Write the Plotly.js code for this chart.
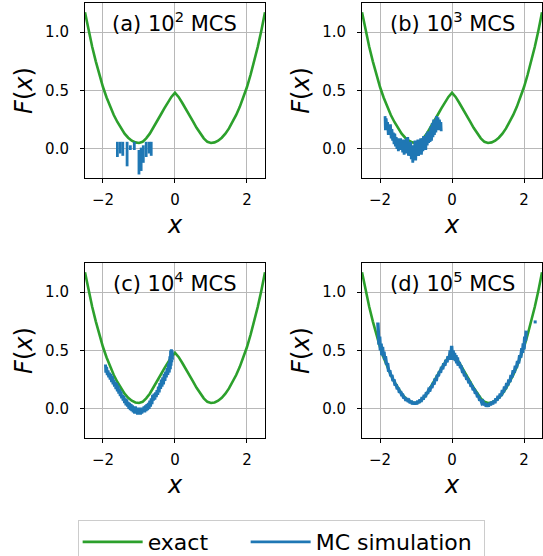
<!DOCTYPE html>
<html>
<head>
<meta charset="utf-8">
<script src="https://cdn.plot.ly/plotly-3.0.1.min.js"></script>
<style>html,body{margin:0;padding:0;background:#fff;}#chart{width:543px;height:556px;}</style>
</head>
<body>
<div id="chart"></div>
<script>
// ---- data ----
const exactX = [-2.5,-2.4,-2.3,-2.2,-2.1,-2.0,-1.9,-1.8,-1.7,-1.6,-1.5,-1.4,-1.3,-1.2,-1.1,-1.0,-0.9,-0.8,-0.7,-0.6,-0.5,-0.4,-0.3,-0.2,-0.1,0,0.1,0.2,0.3,0.4,0.5,0.6,0.7,0.8,0.9,1.0,1.1,1.2,1.3,1.4,1.5,1.6,1.7,1.8,1.9,2.0,2.1,2.2,2.3,2.4,2.5];
const exactF = [1.17,1.015,0.875,0.75,0.635,0.53,0.44,0.36,0.29,0.23,0.175,0.13,0.095,0.07,0.055,0.05,0.06,0.09,0.13,0.18,0.235,0.29,0.345,0.395,0.445,0.48,0.445,0.395,0.345,0.29,0.235,0.18,0.13,0.09,0.06,0.05,0.055,0.07,0.095,0.13,0.175,0.23,0.29,0.36,0.44,0.53,0.635,0.75,0.875,1.015,1.17];

// (a) 10^2 MCS: short vertical strokes
const mcA_x   = [-1.60,-1.52,-1.45,-1.33,-1.24,-1.13,-1.00,-0.94,-0.88,-0.80,-0.72,-0.66];
const mcA_top = [0.06,0.06,0.06,0.06,0.03,0.06,-0.01,0.01,0.03,0.06,0.06,0.06];
const mcA_bot = [-0.07,-0.04,-0.06,-0.15,-0.01,-0.01,-0.22,-0.19,-0.12,-0.07,-0.04,-0.06];

// (b) 10^3 MCS
const mcB_x = [-1.86,-1.85,-1.83,-1.81,-1.79,-1.77,-1.75,-1.73,-1.71,-1.69,-1.67,-1.65,-1.63,-1.61,-1.59,-1.57,-1.55,-1.53,-1.51,-1.49,-1.47,-1.45,-1.43,-1.41,-1.39,-1.37,-1.35,-1.33,-1.31,-1.29,-1.27,-1.25,-1.23,-1.21,-1.19,-1.17,-1.15,-1.13,-1.11,-1.09,-1.07,-1.05,-1.03,-1.01,-0.99,-0.97,-0.95,-0.93,-0.91,-0.89,-0.87,-0.85,-0.83,-0.81,-0.79,-0.77,-0.75,-0.73,-0.71,-0.69,-0.67,-0.65,-0.63,-0.61,-0.59,-0.57,-0.55,-0.53,-0.51,-0.49,-0.47,-0.45,-0.43,-0.41,-0.39,-0.37,-0.35,-0.33,-0.31,-0.30];
const mcB_F = [0.28,0.16,0.26,0.18,0.23,0.12,0.20,0.15,0.21,0.09,0.17,0.07,0.14,0.04,0.13,0.02,0.10,0.00,0.09,-0.02,0.07,-0.01,0.09,0.00,0.06,-0.03,0.08,-0.05,0.05,-0.02,0.09,-0.04,0.10,-0.06,0.04,-0.03,0.06,-0.09,0.03,-0.12,0.02,-0.07,0.07,-0.10,0.04,-0.04,0.08,-0.06,0.06,-0.03,0.09,-0.05,0.05,-0.02,0.11,0.00,0.08,-0.01,0.13,0.03,0.15,0.05,0.12,0.06,0.19,0.07,0.22,0.10,0.25,0.12,0.21,0.14,0.28,0.17,0.27,0.16,0.25,0.18,0.23,0.15];

// (c) 10^4 MCS
const mcC_x = [-1.93,-1.92,-1.90,-1.88,-1.86,-1.84,-1.82,-1.80,-1.78,-1.76,-1.74,-1.72,-1.70,-1.68,-1.66,-1.64,-1.62,-1.60,-1.58,-1.56,-1.54,-1.52,-1.50,-1.48,-1.46,-1.44,-1.42,-1.40,-1.38,-1.36,-1.34,-1.32,-1.30,-1.28,-1.26,-1.24,-1.22,-1.20,-1.18,-1.16,-1.14,-1.12,-1.10,-1.08,-1.06,-1.04,-1.02,-1.00,-0.98,-0.96,-0.94,-0.92,-0.90,-0.88,-0.86,-0.84,-0.82,-0.80,-0.78,-0.76,-0.74,-0.72,-0.70,-0.68,-0.66,-0.64,-0.62,-0.60,-0.58,-0.56,-0.54,-0.52,-0.50,-0.48,-0.46,-0.44,-0.42,-0.40,-0.38,-0.36,-0.34,-0.32,-0.30,-0.28,-0.26,-0.24,-0.22,-0.20,-0.18,-0.16,-0.14,-0.13,-0.12,-0.11,-0.10,-0.09,-0.08,-0.07];
const mcC_F = [0.38,0.31,0.36,0.29,0.33,0.27,0.31,0.25,0.30,0.23,0.28,0.21,0.25,0.19,0.23,0.17,0.22,0.15,0.20,0.13,0.17,0.11,0.15,0.09,0.12,0.07,0.11,0.05,0.09,0.03,0.08,0.02,0.06,0.00,0.05,-0.01,0.04,-0.02,0.03,-0.03,0.02,-0.04,0.02,-0.03,0.01,-0.05,0.01,-0.04,0.00,-0.05,0.01,-0.04,0.01,-0.03,0.02,-0.03,0.03,-0.02,0.04,-0.01,0.05,0.00,0.07,0.02,0.09,0.04,0.12,0.07,0.13,0.08,0.14,0.10,0.16,0.12,0.19,0.14,0.22,0.17,0.25,0.19,0.27,0.21,0.30,0.24,0.32,0.27,0.35,0.29,0.39,0.31,0.45,0.34,0.50,0.37,0.51,0.40,0.50,0.42];

// (d) 10^5 MCS
const mcD_x = [-2.06,-2.05,-2.04,-2.03,-2.01,-1.99,-1.97,-1.95,-1.93,-1.91,-1.89,-1.87,-1.85,-1.82,-1.79,-1.76,-1.73,-1.70,-1.67,-1.64,-1.61,-1.58,-1.55,-1.52,-1.49,-1.46,-1.43,-1.40,-1.37,-1.34,-1.31,-1.28,-1.25,-1.22,-1.19,-1.16,-1.13,-1.10,-1.07,-1.04,-1.01,-0.98,-0.95,-0.92,-0.89,-0.86,-0.83,-0.80,-0.77,-0.74,-0.71,-0.68,-0.65,-0.62,-0.59,-0.56,-0.53,-0.50,-0.47,-0.44,-0.41,-0.38,-0.35,-0.32,-0.29,-0.26,-0.23,-0.20,-0.17,-0.14,-0.11,-0.08,-0.05,-0.03,-0.01,0.01,0.03,0.05,0.07,0.09,0.11,0.13,0.15,0.17,0.20,0.23,0.26,0.29,0.32,0.35,0.38,0.41,0.44,0.47,0.50,0.53,0.56,0.59,0.62,0.65,0.68,0.71,0.74,0.77,0.80,0.83,0.86,0.89,0.92,0.95,0.98,1.01,1.04,1.07,1.10,1.13,1.16,1.19,1.22,1.25,1.28,1.31,1.34,1.37,1.40,1.43,1.46,1.49,1.52,1.55,1.58,1.61,1.64,1.67,1.70,1.73,1.76,1.79,1.82,1.85,1.88,1.91,1.94,1.96,1.98,2.00,2.02,2.04,2.06];
const mcD_F = [0.74,0.56,0.70,0.55,0.62,0.50,0.56,0.46,0.53,0.45,0.49,0.42,0.45,0.38,0.39,0.32,0.33,0.28,0.29,0.24,0.25,0.20,0.21,0.17,0.18,0.14,0.15,0.12,0.12,0.09,0.10,0.07,0.09,0.06,0.07,0.05,0.07,0.04,0.06,0.04,0.06,0.04,0.07,0.05,0.08,0.06,0.10,0.08,0.12,0.10,0.14,0.13,0.16,0.15,0.19,0.18,0.22,0.21,0.26,0.24,0.29,0.28,0.32,0.31,0.36,0.34,0.39,0.37,0.42,0.40,0.45,0.42,0.50,0.43,0.54,0.42,0.50,0.43,0.48,0.41,0.46,0.39,0.44,0.37,0.40,0.36,0.36,0.32,0.32,0.28,0.29,0.25,0.26,0.22,0.23,0.19,0.20,0.16,0.17,0.13,0.14,0.10,0.11,0.07,0.08,0.05,0.06,0.03,0.05,0.02,0.04,0.02,0.05,0.03,0.06,0.04,0.07,0.05,0.09,0.07,0.11,0.09,0.13,0.11,0.16,0.14,0.19,0.17,0.22,0.20,0.25,0.23,0.29,0.27,0.33,0.31,0.37,0.35,0.41,0.39,0.46,0.44,0.52,0.48,0.56,0.51,0.62,0.58,0.67];
const strayD_x = [2.31];
const strayD_F = [0.745];

const panelLabels = ["(a) 10<sup>2</sup> MCS","(b) 10<sup>3</sup> MCS","(c) 10<sup>4</sup> MCS","(d) 10<sup>5</sup> MCS"];
const legendNames = ["exact","MC simulation"];

// ---- styling ----
const GREEN = "#2ca02c", BLUE = "#1f77b4";
const FONT = "DejaVu Sans";
const LW = 2.6;

function strokes(xs, tops, bots) {
  const x = [], y = [];
  for (let i = 0; i < xs.length; i++) { x.push(xs[i], xs[i], null); y.push(tops[i], bots[i], null); }
  return {x, y};
}

const axes = ["", "2", "3", "4"];
const traces = [];
axes.forEach((s, i) => {
  traces.push({x: exactX, y: exactF, xaxis: "x" + s, yaxis: "y" + s, mode: "lines",
    line: {color: GREEN, width: LW}, name: legendNames[0], legendgroup: "exact",
    showlegend: i === 0, legendwidth: 93});
});
const segA = strokes(mcA_x, mcA_top, mcA_bot);
const mcSets = [segA, {x: mcB_x, y: mcB_F}, {x: mcC_x, y: mcC_F}, {x: mcD_x, y: mcD_F}];
const mcWidths = [2.8, 2.8, 3.0, 3.4];
mcSets.forEach((d, i) => {
  const s = axes[i];
  traces.push({x: d.x, y: d.y, xaxis: "x" + s, yaxis: "y" + s, mode: "lines",
    line: {color: BLUE, width: mcWidths[i]}, name: legendNames[1], legendgroup: "mc",
    showlegend: i === 0, connectgaps: false, legendwidth: 163});
});
traces.push({x: strayD_x, y: strayD_F, xaxis: "x4", yaxis: "y4", mode: "markers",
  marker: {color: BLUE, size: 3, symbol: "square"}, showlegend: false, legendgroup: "mc", name: legendNames[1]});

const xDomL = [0.1565, 0.4880], xDomR = [0.6667, 0.9982];
const yDomT = [0.6799, 0.9946], yDomB = [0.2122, 0.5270];
const doms = [[xDomL, yDomT], [xDomR, yDomT], [xDomL, yDomB], [xDomR, yDomB]];

function xax(dom, anchor) {
  return {domain: dom, anchor: anchor, range: [-2.5, 2.5], tickvals: [-2, 0, 2],
    showgrid: true, gridcolor: "#b8b8b8", gridwidth: 1, zeroline: false,
    showline: true, mirror: true, linecolor: "#000", linewidth: 1,
    ticks: "outside", ticklen: 4, tickwidth: 1, tickcolor: "#000", ticklabelstandoff: 4,
    tickfont: {family: FONT, size: 15, color: "#000"},
    title: {text: "<i>x</i>", font: {family: FONT, size: 24, color: "#000"}, standoff: 8}};
}
function yax(dom, anchor) {
  return {domain: dom, anchor: anchor, range: [-0.25, 1.25], tickvals: [0, 0.5, 1], tickformat: ".1f",
    showgrid: true, gridcolor: "#b8b8b8", gridwidth: 1, zeroline: false,
    showline: true, mirror: true, linecolor: "#000", linewidth: 1,
    ticks: "outside", ticklen: 4, tickwidth: 1, tickcolor: "#000", ticklabelstandoff: 8,
    tickfont: {family: FONT, size: 15, color: "#000"},
    title: {text: "<i>F</i>(<i>x</i>)", font: {family: FONT, size: 24, color: "#000"}, standoff: 5}};
}

const layout = {
  width: 543, height: 556, margin: {l: 0, r: 0, t: 0, b: 0, autoexpand: false},
  paper_bgcolor: "#fff", plot_bgcolor: "#fff",
  font: {family: FONT, color: "#000"},
  showlegend: true,
  legend: {orientation: "h", x: 0.143, xanchor: "left", y: 0.0647, yanchor: "top",
    bordercolor: "#cccccc", borderwidth: 1, bgcolor: "#fff", itemwidth: 60,
    entrywidthmode: "pixels", font: {family: FONT, size: 22, color: "#000"}},
  annotations: []
};
doms.forEach((d, i) => {
  const s = axes[i];
  layout["xaxis" + s] = xax(d[0], "y" + s);
  layout["yaxis" + s] = yax(d[1], "x" + s);
  layout.annotations.push({text: panelLabels[i], xref: "paper", yref: "paper",
    x: (d[0][0] + d[0][1]) / 2, y: d[1][1] - 0.034, xanchor: "center", yanchor: "middle",
    showarrow: false, font: {family: FONT, size: 21, color: "#000"}});
});

Plotly.newPlot("chart", traces, layout, {staticPlot: true, displayModeBar: false});
</script>
</body>
</html>
